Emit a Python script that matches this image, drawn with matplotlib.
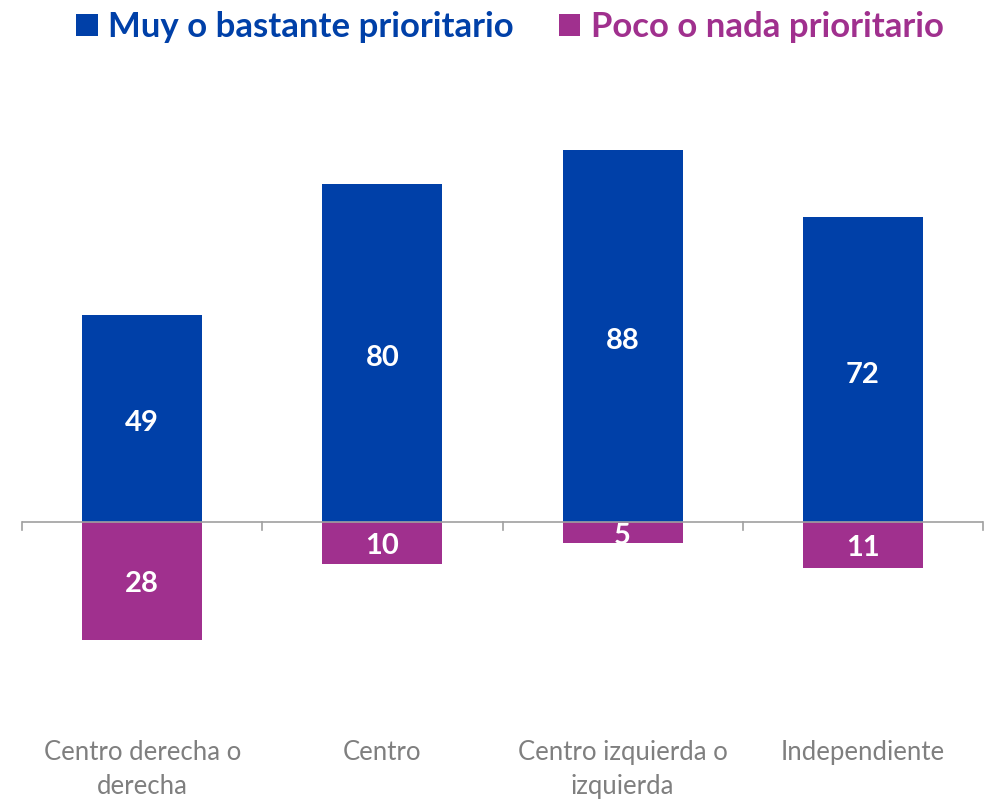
import numpy as np
import matplotlib
matplotlib.use("Agg")
import matplotlib.pyplot as plt
from matplotlib.patches import Patch

# Datos
categorias = ["Centro derecha o\nderecha", "Centro", "Centro izquierda o\nizquierda", "Independiente"]
prioritario = [49, 80, 88, 72]
no_prioritario = [28, 10, 5, 11]
series = ["Muy o bastante prioritario", "Poco o nada prioritario"]

AZUL = "#0040a8"
MORADO = "#a0308e"
GRIS = "#7f7f7f"

plt.rcParams["font.family"] = ["Lato", "DejaVu Sans"]

fig = plt.figure(figsize=(9.9, 7.99), dpi=100)
ax = fig.add_axes([22 / 990, (799 - 691) / 799, (983 - 22) / 990, (691 - 99) / 799])

x = np.arange(len(categorias))
neg = [-v for v in no_prioritario]
ax.bar(x, prioritario, width=0.5, color=AZUL)
ax.bar(x, neg, width=0.5, color=MORADO)

# etiquetas de valor
for xi, v in zip(x, prioritario):
    ax.text(xi, v / 2 - 1.2, str(v), ha="center", va="center", color="white",
            fontsize=21, fontweight="bold")
for xi, v in zip(x, no_prioritario):
    ax.text(xi, -v / 2 - 0.8, str(v), ha="center", va="center", color="white",
            fontsize=21, fontweight="bold")

ax.set_xlim(-0.5, 3.5)
ax.set_ylim(-40, 100)

for s in ["top", "right", "left", "bottom"]:
    ax.spines[s].set_visible(False)
ax.axhline(0, color="#a0a0a0", lw=1.2, zorder=3)
for b in np.arange(-0.5, 3.6, 1.0):
    ax.plot([b, b], [0, -1.9], color="#a0a0a0", lw=1.2, clip_on=False)

ax.set_yticks([])
ax.set_xticks(x)
ax.set_xticklabels(categorias, fontsize=18.5, color=GRIS, linespacing=1.45)
ax.tick_params(axis="x", length=0, pad=35)

handles = [Patch(facecolor=AZUL, label=series[0]), Patch(facecolor=MORADO, label=series[1])]
leg = fig.legend(handles=handles, loc="upper center", bbox_to_anchor=(0.515, 1.025), ncol=2,
                 frameon=False, prop={"size": 25, "weight": "bold"},
                 handlelength=0.62, handleheight=0.62, handletextpad=0.3, columnspacing=1.3)
for t, c in zip(leg.get_texts(), [AZUL, MORADO]):
    t.set_color(c)

fig.savefig("out.png", dpi=100, facecolor="white")
